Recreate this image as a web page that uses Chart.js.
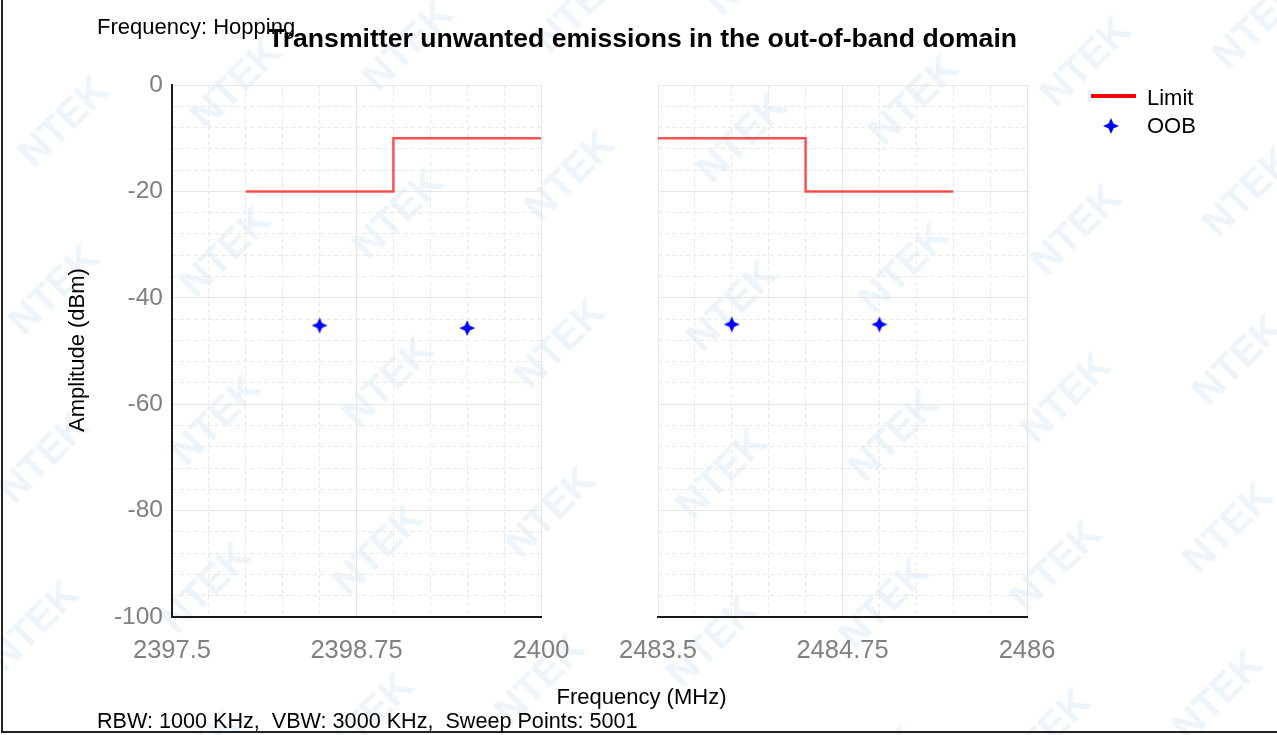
<!DOCTYPE html>
<html>
<head>
<meta charset="utf-8">
<script src="https://cdn.jsdelivr.net/npm/chart.js@4/dist/chart.umd.min.js"></script>
<style>
  body { margin: 0; background: #fff; }
  #page { position: relative; width: 1277px; height: 735px; overflow: hidden; font-family: "Liberation Sans", Arial, sans-serif; }
  #page canvas { position: absolute; left: 0; top: 0; }
  .txt { position: absolute; white-space: nowrap; line-height: 1; color: #000; }
  #frame { position: absolute; left: 1px; top: -2px; width: 1300px; height: 733px; border-left: 2px solid #222; border-bottom: 2px solid #222; }
</style>
</head>
<body>
<div id="page">
  <canvas id="marca" width="1277" height="735"></canvas>
  <canvas id="izq" width="1277" height="735"></canvas>
  <canvas id="der" width="1277" height="735"></canvas>
  <div id="frame"></div>
  <div class="txt" style="left:97px; top:16px; font-size:22px;">Frequency: Hopping</div>
  <div class="txt" style="left:0; width:1285px; text-align:center; top:25px; font-size:26.6px; font-weight:bold;">Transmitter unwanted emissions in the out-of-band domain</div>
  <div class="txt" style="left:-73px; width:300px; text-align:center; top:339px; font-size:22px; transform:rotate(-90deg);">Amplitude (dBm)</div>
  <div class="txt" style="left:0; width:1283px; text-align:center; top:686px; font-size:22px;">Frequency (MHz)</div>
  <div class="txt" style="left:97px; top:710px; font-size:21.6px;">RBW: 1000 KHz,&nbsp; VBW: 3000 KHz,&nbsp; Sweep Points: 5001</div>
  <div style="position:absolute; left:1091px; top:94px; width:45px; height:4px; background:#ff0000;"></div>
  <div class="txt" style="left:1147px; top:87px; font-size:22px;">Limit</div>
  <div class="txt" style="left:1147px; top:115px; font-size:22px;">OOB</div>
  <div id="legStar" style="position:absolute; left:1102px; top:117px;"></div>
</div>
<script>
// datos
const leftRange = [2397.5, 2400];
const rightRange = [2483.5, 2486];

const limitLeftX = [2398, 2399, 2399, 2400];
const limitLeftY = [-20, -20, -10, -10];
const limitRightX = [2483.5, 2484.5, 2484.5, 2485.5];
const limitRightY = [-10, -10, -20, -20];

const oobLeftX = [2398.5, 2399.5];
const oobLeftY = [-45.2, -45.7];
const oobRightX = [2484, 2485];
const oobRightY = [-45.0, -45.0];

const yRange = [-100, 0];

const fuente = '"Liberation Sans", Arial, sans-serif';

// estrella de 4 puntas para los puntos OOB
function estrella(color, r) {
    const c = document.createElement('canvas');
    c.width = c.height = 2 * r + 2;
    const g = c.getContext('2d');
    const m = r + 1, k = r * 0.3;
    g.beginPath();
    g.moveTo(m, m - r); g.lineTo(m + k, m - k); g.lineTo(m + r, m); g.lineTo(m + k, m + k);
    g.lineTo(m, m + r); g.lineTo(m - k, m + k); g.lineTo(m - r, m); g.lineTo(m - k, m - k);
    g.closePath();
    g.fillStyle = color;
    g.fill();
    return c;
}
const star = estrella('#0000ff', 8);
document.getElementById('legStar').appendChild(estrella('#0000ff', 8));

// marca de agua
function marcaAgua() {
    const g = document.getElementById('marca').getContext('2d');
    g.font = 'bold 40px ' + fuente;
    g.fillStyle = 'rgba(175,205,232,0.22)';
    g.textAlign = 'center';
    g.textBaseline = 'middle';
    for (let i = -3; i < 10; i++) {
        for (let j = -2; j < 7; j++) {
            const x = 65 + i * 172 - j * 10;
            const y = 123 - i * 38 + j * 168;
            if (x < -80 || x > 1360 || y < -80 || y > 820) continue;
            g.save();
            g.translate(x, y);
            g.rotate(-Math.PI / 4);
            g.fillText('NTEK', 0, 0);
            g.restore();
        }
    }
}

function esMayorX(v, xMin) {
    return Math.round((v - xMin) * 100) % 125 === 0;
}

function crearPanel(id, rango, limX, limY, oobX, oobY, izquierda) {
    const lim = limX.map((x, i) => ({ x: x, y: limY[i] }));
    const oob = oobX.map((x, i) => ({ x: x, y: oobY[i] }));
    const xMin = rango[0];

    return new Chart(document.getElementById(id), {
        type: 'scatter',
        data: {
            datasets: [{
                label: 'Limit',
                data: lim,
                showLine: true,
                borderColor: 'rgba(255,0,0,0.68)',
                borderWidth: 2.5,
                pointRadius: 0,
                fill: false
            }, {
                label: 'OOB',
                data: oob,
                showLine: false,
                pointStyle: star,
                pointRadius: 8
            }]
        },
        options: {
            responsive: false,
            animation: false,
            events: [],
            layout: {
                padding: izquierda
                    ? { left: 112, right: 736, top: 85, bottom: 68 }
                    : { left: 658, right: 250, top: 85, bottom: 68 }
            },
            plugins: {
                legend: { display: false },
                tooltip: { enabled: false }
            },
            scales: {
                x: {
                    type: 'linear',
                    min: rango[0],
                    max: rango[1],
                    afterFit: s => { s.height = 50; },
                    ticks: {
                        stepSize: 0.25,
                        autoSkip: false,
                        maxRotation: 0,
                        minRotation: 0,
                        padding: 19,
                        color: '#808080',
                        font: { size: 25.5, family: fuente },
                        callback: v => esMayorX(v, xMin) ? String(Math.round(v * 100) / 100) : ''
                    },
                    grid: {
                        drawTicks: false,
                        lineWidth: 1,
                        color: c => (c.tick && esMayorX(c.tick.value, xMin)) ? '#e6e6e6' : '#e8e8e8'
                    },
                    border: {
                        color: '#1a1a1a',
                        width: 2,
                        dash: c => (c.type === 'tick' && !esMayorX(c.tick.value, xMin)) ? [4, 3] : []
                    }
                },
                y: {
                    min: yRange[0],
                    max: yRange[1],
                    afterFit: s => { s.width = izquierda ? 60 : 0; },
                    ticks: {
                        display: izquierda,
                        stepSize: 4,
                        autoSkip: false,
                        padding: 9,
                        color: '#808080',
                        font: { size: 24.5, family: fuente },
                        callback: v => v % 20 === 0 ? String(v) : ''
                    },
                    grid: {
                        drawTicks: false,
                        lineWidth: 1,
                        color: c => (c.tick && c.tick.value % 20 === 0) ? '#e6e6e6' : '#e8e8e8'
                    },
                    border: {
                        display: izquierda,
                        color: '#1a1a1a',
                        width: 2,
                        dash: c => (c.type === 'tick' && c.tick.value % 20 !== 0) ? [4, 3] : []
                    }
                }
            }
        }
    });
}

function crearGraficos() {
    marcaAgua();
    crearPanel('izq', leftRange, limitLeftX, limitLeftY, oobLeftX, oobLeftY, true);
    crearPanel('der', rightRange, limitRightX, limitRightY, oobRightX, oobRightY, false);
}

document.addEventListener('DOMContentLoaded', crearGraficos);
</script>
</body>
</html>
